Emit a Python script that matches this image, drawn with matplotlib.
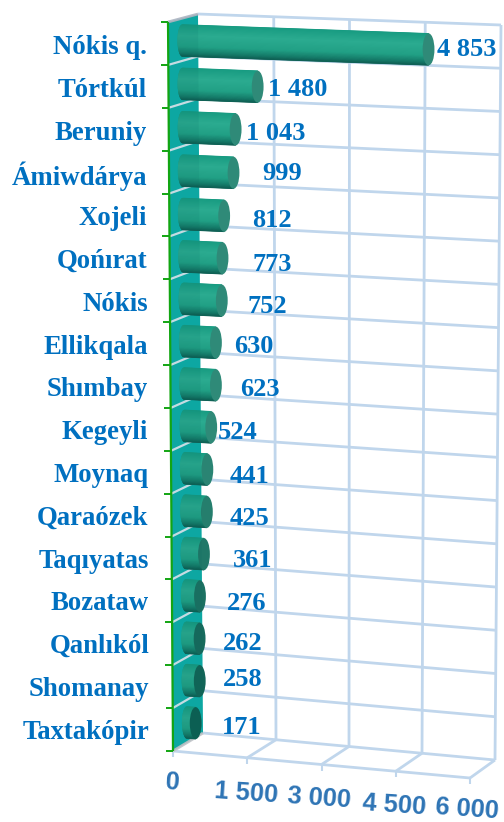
import numpy as np
import matplotlib
matplotlib.use("Agg")
import matplotlib.pyplot as plt
from matplotlib.collections import PolyCollection
from matplotlib.colors import LinearSegmentedColormap, to_rgb
from matplotlib.patches import Ellipse, Polygon

categories = ["Nókis q.", "Tórtkúl", "Beruniy", "Ámiwdárya", "Xojeli", "Qońırat", "Nókis",
              "Ellikqala", "Shımbay", "Kegeyli", "Moynaq", "Qaraózek", "Taqıyatas",
              "Bozataw", "Qanlıkól", "Shomanay", "Taxtakópir"]
values = [4853, 1480, 1043, 999, 812, 773, 752, 630, 623, 524, 441, 425, 361, 276, 262, 258, 171]
value_labels = ["4 853", "1 480", "1 043", "999", "812", "773", "752", "630", "623", "524",
                "441", "425", "361", "276", "262", "258", "171"]
tick_values = [0, 1500, 3000, 4500, 6000]
tick_labels = ["0", "1 500", "3 000", "4 500", "6 000"]

label_centers = [(467, 50), (298, 90), (276, 133), (282, 173), (272, 220), (272, 264), (267, 306),
                 (254, 346), (260, 389), (238, 432), (250, 476), (250, 518), (253, 560), (247, 603),
                 (243, 643), (243, 679), (242, 727)]
tick_centers = [(173, 783), (246, 793), (319, 798), (394, 805), (467, 809)]

GRID = "#c0d6ec"
TEAL = "#0fb0ab"
GREEN = "#12a512"
VAL = "#0070c0"
TICK = "#2e74b5"
SERIF = "Liberation Serif"
SANS = "Liberation Sans"
n = len(categories)
VMAX = 6000.0

fig = plt.figure(figsize=(5.04, 8.22), dpi=100)
ax = fig.add_axes([0, 0, 1, 1])
ax.set_xlim(0, 504)
ax.set_ylim(822, 0)
ax.axis("off")


def lerp(a, b, t):
    return a + (b - a) * t


def back(v, k):
    u, w = v / VMAX, k / n
    x = lerp(lerp(198, 501, u), lerp(203, 495, u), w)
    y = lerp(lerp(14, 25, u), lerp(733, 760, u), w)
    return x, y


def front(v, k):
    u, w = v / VMAX, k / n
    x = lerp(lerp(168, 470, u), lerp(173, 470, u), w)
    y = lerp(lerp(22, 49, u), lerp(751, 778, u), w)
    return x, y


def seg(p, q, **kw):
    ax.plot([p[0], q[0]], [p[1], q[1]], solid_capstyle="butt", **kw)


for k in range(n + 1):
    seg(back(0, k), back(VMAX, k), color=GRID, lw=2.0, zorder=1)
for v in tick_values[1:]:
    seg(back(v, 0), back(v, n), color=GRID, lw=2.0, zorder=1)

pts = [front(0, n), front(VMAX, n), back(VMAX, n)]
seg(pts[0], pts[1], color=GRID, lw=2.0, zorder=1)
seg(pts[1], pts[2], color=GRID, lw=2.0, zorder=1)
for v in tick_values[1:-1]:
    seg(front(v, n), back(v, n), color=GRID, lw=2.0, zorder=1)
for v in tick_values:
    p = front(v, n)
    seg(p, (p[0], p[1] + 6), color=GRID, lw=1.5, zorder=1)

wall = [front(0, 0), back(0, 0), back(0, n), front(0, n)]
ax.add_patch(Polygon(wall, closed=True, fc=TEAL, ec="none", zorder=2))
for k in range(1, n):
    seg(front(0, k), back(0, k), color="#dbeaf2", lw=1.6, zorder=2)
seg(front(0, 0), back(0, 0), color="#b4bcc8", lw=2, zorder=2)
seg(front(0, n), back(0, n), color="#c4c8cc", lw=2, zorder=2)

cmap = LinearSegmentedColormap.from_list(
    "cyl", [(0, "#179b81"), (0.35, "#2bab90"), (0.7, "#21a085"), (0.9, "#157a68"), (1, "#0e5f53")])
H = 32.0
A_LEFT = 4.8
A_RIGHT = 5.9
cap_top, cap_bot = np.array(to_rgb("#2f8a78")), np.array(to_rgb("#0d5f52"))
for i, val in enumerate(values):
    x0 = np.interp(i, [0, 4, 16], [182.5, 183, 187])
    y0 = np.interp(i, [0, 4, 16], [40.5, 214, 722.5])
    x1 = x0 + val * 0.0507
    slope = 0.036 + (0.07 - 0.036) * i / (n - 1)
    y1 = y0 + (x1 - x0) * slope
    ts = np.linspace(-1, 1, 61)
    polys, cols = [], []
    for a, b in zip(ts[:-1], ts[1:]):
        m = (a + b) / 2
        la = x0 - A_LEFT * np.sqrt(max(0, 1 - a * a))
        lb = x0 - A_LEFT * np.sqrt(max(0, 1 - b * b))
        polys.append([(la, y0 + a * H / 2), (x1, y1 + a * H / 2), (x1, y1 + b * H / 2), (lb, y0 + b * H / 2)])
        cols.append(cmap((m + 1) / 2))
    ax.add_collection(PolyCollection(polys, facecolors=cols, edgecolors=cols, linewidths=0.4, zorder=3))
    cap = tuple(np.interp(max(0, i - 9) / 7, [0, 1], [cap_top[c], cap_bot[c]]) for c in range(3))
    ax.add_patch(Ellipse((x1, y1), 2 * A_RIGHT, H, fc=cap, ec="none", zorder=4))

ax.add_patch(Polygon(wall, closed=True, fc="#04605c", ec="none", alpha=0.1, zorder=5))

seg(front(0, 0), front(0, n), color=GREEN, lw=1.6, zorder=6)
for k in range(n + 1):
    p = front(0, k)
    seg((p[0] - 7, p[1]), p, color=GREEN, lw=1.4, zorder=6)

for i, name in enumerate(categories):
    ax.text(146.5 + 0.2 * i, 47.5 + 42.8 * i, name, ha="right", va="center", family=SERIF,
            weight="bold", size=19.3, color=VAL, zorder=7)
for lab, (x, y) in zip(value_labels, label_centers):
    ax.text(x, y, lab, ha="center", va="center", family=SERIF, weight="bold", size=19,
            color=VAL, zorder=7)
for lab, (x, y) in zip(tick_labels, tick_centers):
    ax.text(x, y, lab, ha="center", va="center", family=SANS, weight="bold", size=18.3,
            color=TICK, rotation=-4, rotation_mode="anchor", zorder=7)

fig.savefig("out.png", dpi=100)
